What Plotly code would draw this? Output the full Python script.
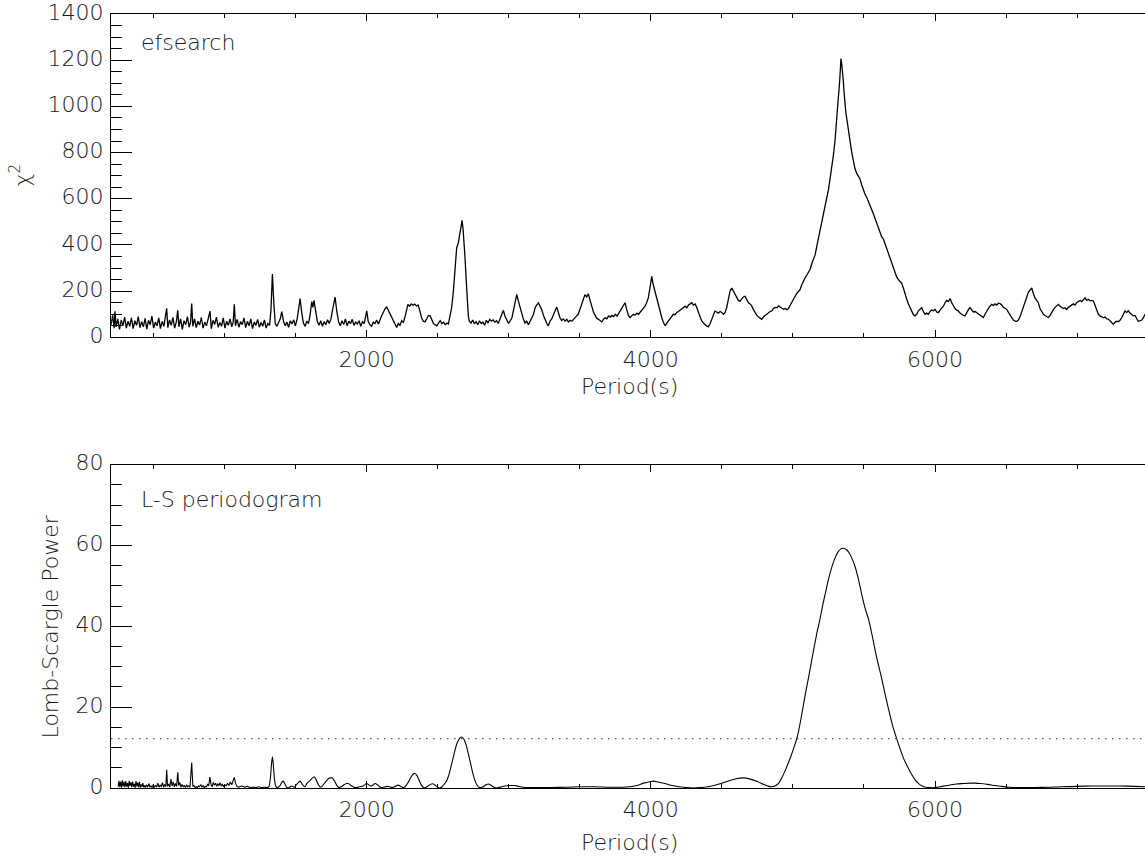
import plotly.graph_objects as go

# ---- epoch-folding search: chi-square versus trial period ----
chi2_period = [
    200, 212, 222, 228, 236, 248, 260, 272, 284, 296,
    308, 320, 332, 344, 356, 368, 380, 392, 404, 416,
    428, 440, 452, 464, 476, 488, 500, 512, 524, 536,
    548, 560, 572, 584, 592, 600, 612, 624, 636, 648,
    660, 670, 678, 690, 702, 714, 726, 738, 750, 760,
    768, 776, 788, 800, 812, 824, 836, 848, 860, 872,
    884, 897, 906, 918, 930, 942, 954, 966, 978, 990,
    1002, 1014, 1026, 1038, 1050, 1060, 1068, 1076, 1088, 1100,
    1112, 1124, 1136, 1148, 1160, 1172, 1184, 1196, 1208, 1220,
    1232, 1244, 1256, 1268, 1280, 1292, 1304, 1316, 1326, 1336,
    1346, 1356, 1368, 1380, 1392, 1402, 1414, 1426, 1438, 1450,
    1462, 1474, 1486, 1498, 1510, 1520, 1531, 1542, 1554, 1566,
    1578, 1590, 1602, 1613, 1621, 1629, 1640, 1652, 1664, 1676,
    1688, 1700, 1712, 1724, 1736, 1748, 1760, 1777, 1790, 1802,
    1814, 1826, 1838, 1850, 1862, 1874, 1886, 1898, 1910, 1922,
    1934, 1946, 1958, 1970, 1982, 1992, 2000, 2010, 2022, 2034,
    2046, 2058, 2070, 2082, 2094, 2106, 2118, 2130, 2141, 2152,
    2164, 2176, 2188, 2200, 2211, 2222, 2234, 2246, 2258, 2270,
    2280, 2290, 2302, 2314, 2326, 2338, 2350, 2362, 2374, 2386,
    2398, 2410, 2422, 2434, 2446, 2458, 2470, 2482, 2493, 2505,
    2517, 2529, 2541, 2553, 2565, 2575, 2586, 2598, 2610, 2622,
    2633, 2645, 2656, 2664, 2671, 2678, 2685, 2692, 2700, 2708,
    2715, 2722, 2734, 2746, 2758, 2770, 2782, 2794, 2806, 2818,
    2830, 2842, 2854, 2866, 2878, 2890, 2902, 2914, 2926, 2938,
    2950, 2962, 2974, 2986, 2998, 3010, 3022, 3034, 3046, 3056,
    3066, 3078, 3090, 3102, 3114, 3126, 3138, 3150, 3162, 3174,
    3186, 3198, 3208, 3220, 3232, 3244, 3256, 3268, 3278, 3290,
    3302, 3314, 3326, 3337, 3348, 3360, 3372, 3384, 3396, 3408,
    3420, 3432, 3444, 3456, 3468, 3478, 3489, 3500, 3512, 3524,
    3536, 3548, 3560, 3572, 3584, 3596, 3608, 3620, 3632, 3644,
    3654, 3666, 3678, 3690, 3702, 3714, 3726, 3738, 3750, 3762,
    3774, 3786, 3798, 3808, 3818, 3830, 3842, 3853, 3865, 3877,
    3889, 3901, 3913, 3925, 3935, 3947, 3959, 3970, 3982, 3994,
    4006, 4016, 4028, 4041, 4053, 4065, 4077, 4088, 4100, 4112,
    4124, 4136, 4148, 4158, 4170, 4182, 4194, 4206, 4217, 4229,
    4241, 4253, 4265, 4277, 4288, 4300, 4312, 4323, 4335, 4347,
    4358, 4370, 4381, 4393, 4404, 4416, 4428, 4440, 4451, 4463,
    4475, 4487, 4499, 4510, 4522, 4534, 4546, 4557, 4569, 4581,
    4593, 4605, 4616, 4628, 4640, 4651, 4663, 4675, 4687, 4698,
    4710, 4722, 4734, 4746, 4758, 4770, 4780, 4792, 4804, 4816,
    4828, 4839, 4851, 4863, 4875, 4887, 4898, 4910, 4922, 4934,
    4945, 4957, 4968, 4980, 4992, 5004, 5015, 5027, 5039, 5050,
    5062, 5074, 5086, 5098, 5109, 5121, 5133, 5145, 5156, 5168,
    5180, 5191, 5203, 5215, 5226, 5238, 5250, 5261, 5273, 5285,
    5296, 5308, 5320, 5328, 5334, 5338, 5344, 5348, 5354, 5360,
    5366, 5372, 5378, 5390, 5402, 5414, 5426, 5437, 5449, 5461,
    5472, 5484, 5496, 5507, 5519, 5531, 5543, 5554, 5566, 5578,
    5590, 5601, 5613, 5625, 5637, 5648, 5660, 5672, 5684, 5695,
    5706, 5718, 5730, 5742, 5753, 5765, 5777, 5789, 5801, 5812,
    5824, 5836, 5848, 5859, 5871, 5883, 5894, 5906, 5918, 5930,
    5941, 5953, 5965, 5977, 5988, 6000, 6012, 6024, 6035, 6047,
    6059, 6071, 6082, 6094, 6106, 6118, 6129, 6141, 6153, 6164,
    6176, 6188, 6200, 6211, 6223, 6235, 6246, 6258, 6270, 6282,
    6293, 6305, 6317, 6328, 6340, 6352, 6364, 6375, 6387, 6399,
    6411, 6422, 6434, 6446, 6458, 6470, 6481, 6493, 6505, 6517,
    6528, 6540, 6552, 6563, 6575, 6587, 6599, 6610, 6622, 6634,
    6646, 6657, 6669, 6681, 6692, 6704, 6716, 6727, 6739, 6751,
    6763, 6774, 6786, 6798, 6810, 6821, 6833, 6845, 6857, 6868,
    6880, 6892, 6904, 6915, 6927, 6939, 6950, 6962, 6974, 6986,
    6997, 7009, 7021, 7033, 7044, 7056, 7068, 7080, 7091, 7103,
    7115, 7127, 7138, 7150, 7162, 7174, 7185, 7197, 7209, 7220,
    7232, 7244, 7255, 7267, 7279, 7290, 7302, 7314, 7326, 7337,
    7349, 7361, 7373, 7384, 7396, 7408, 7420, 7431, 7443, 7455,
    7467, 7478,
]
chi2_value = [
    55, 95, 40, 113, 45, 80, 35, 75, 50, 88,
    40, 70, 48, 85, 38, 72, 52, 90, 42, 68,
    45, 82, 36, 74, 55, 92, 40, 66, 50, 84,
    38, 70, 48, 88, 126, 42, 76, 52, 86, 40,
    68, 117, 46, 80, 35, 72, 55, 90, 44, 65,
    146, 48, 80, 42, 70, 54, 86, 40, 66, 50,
    82, 114, 38, 74, 56, 88, 44, 64, 48, 84,
    40, 70, 52, 80, 46, 66, 143, 50, 78, 44,
    68, 55, 84, 42, 70, 50, 80, 38, 66, 52,
    78, 44, 64, 48, 76, 40, 60, 52, 120, 274,
    150, 60, 48, 70, 82, 112, 70, 50, 66, 44,
    72, 58, 76, 50, 80, 120, 168, 110, 62, 48,
    70, 60, 100, 155, 130, 160, 110, 70, 52, 72,
    48, 68, 55, 76, 60, 80, 120, 174, 110, 68,
    50, 72, 56, 80, 50, 70, 60, 78, 52, 66,
    58, 72, 48, 68, 60, 85, 115, 70, 55, 48,
    66, 60, 75, 58, 80, 95, 110, 125, 131, 118,
    100, 85, 70, 60, 43, 60, 52, 72, 65, 90,
    120, 143, 135, 145, 138, 144, 136, 140, 115, 85,
    70, 67, 80, 95, 93, 75, 60, 55, 50, 62,
    72, 60, 66, 55, 62, 58, 90, 130, 200, 290,
    387, 410, 460, 490, 507, 470, 420, 343, 250, 160,
    93, 70, 62, 75, 58, 68, 55, 72, 60, 66,
    52, 74, 62, 78, 70, 76, 66, 72, 60, 80,
    100, 117, 90, 75, 60, 72, 85, 120, 160, 186,
    160, 130, 100, 80, 62, 70, 55, 68, 85, 100,
    130, 140, 150, 135, 120, 95, 75, 60, 50, 70,
    80, 100, 120, 131, 110, 85, 73, 80, 70, 78,
    67, 74, 70, 80, 85, 93, 100, 120, 150, 170,
    185, 175, 189, 160, 130, 110, 95, 82, 78, 70,
    67, 78, 85, 80, 93, 88, 95, 90, 100, 92,
    105, 115, 130, 140, 150, 120, 95, 86, 93, 100,
    96, 105, 100, 110, 114, 125, 135, 150, 171, 215,
    264, 230, 200, 171, 140, 110, 85, 65, 50, 62,
    72, 85, 95, 100, 98, 108, 112, 118, 121, 130,
    135, 128, 140, 145, 150, 140, 145, 129, 105, 88,
    71, 62, 55, 50, 46, 58, 75, 95, 114, 110,
    105, 112, 108, 100, 107, 130, 170, 200, 214, 200,
    190, 170, 160, 157, 165, 175, 178, 165, 150, 145,
    136, 120, 105, 95, 88, 82, 78, 88, 95, 100,
    108, 112, 114, 125, 130, 128, 136, 130, 128, 122,
    125, 120, 125, 140, 155, 168, 178, 190, 200, 207,
    228, 245, 258, 270, 280, 295, 320, 340, 357, 395,
    430, 457, 500, 535, 571, 600, 640, 686, 730, 790,
    850, 930, 1043, 1100, 1160, 1207, 1180, 1130, 1114, 1060,
    1000, 975, 950, 886, 850, 800, 760, 730, 710, 695,
    686, 660, 635, 621, 607, 590, 570, 557, 535, 515,
    495, 478, 455, 435, 425, 405, 385, 365, 345, 321,
    300, 280, 262, 250, 243, 235, 214, 185, 165, 145,
    129, 110, 98, 93, 100, 115, 120, 129, 112, 100,
    105, 100, 112, 118, 115, 121, 110, 107, 118, 125,
    135, 150, 160, 155, 168, 150, 135, 125, 118, 114,
    105, 98, 95, 93, 110, 120, 129, 118, 110, 112,
    107, 100, 95, 90, 86, 100, 115, 125, 135, 143,
    138, 145, 140, 148, 146, 140, 130, 125, 121, 108,
    95, 85, 75, 70, 69, 75, 90, 110, 130, 157,
    175, 195, 205, 214, 190, 170, 160, 150, 125, 110,
    100, 95, 90, 86, 95, 110, 120, 130, 138, 143,
    135, 130, 125, 128, 121, 130, 135, 140, 145, 140,
    150, 155, 160, 155, 165, 171, 160, 165, 158, 160,
    157, 140, 120, 100, 93, 90, 85, 88, 80, 79,
    70, 65, 57, 65, 70, 68, 74, 85, 100, 114,
    108, 115, 105, 100, 93, 95, 80, 69, 72, 75,
    85, 100,
]

# ---- Lomb-Scargle periodogram ----
ls_period = [
    250, 256, 262, 268, 274, 280, 286, 292, 298, 304,
    310, 316, 322, 328, 334, 340, 346, 352, 358, 364,
    370, 376, 382, 388, 394, 400, 406, 412, 418, 424,
    430, 436, 442, 450, 458, 466, 474, 482, 490, 498,
    506, 514, 522, 530, 538, 546, 554, 562, 570, 578,
    586, 592, 598, 606, 614, 622, 630, 638, 646, 654,
    662, 670, 676, 684, 692, 700, 708, 716, 724, 732,
    740, 748, 756, 768, 776, 784, 792, 800, 808, 816,
    824, 832, 840, 848, 856, 864, 872, 880, 888, 896,
    904, 912, 920, 928, 936, 944, 952, 960, 968, 976,
    984, 992, 1000, 1010, 1020, 1030, 1040, 1050, 1060, 1068,
    1076, 1086, 1100, 1120, 1140, 1160, 1180, 1200, 1220, 1240,
    1260, 1280, 1300, 1312, 1322, 1330, 1336, 1342, 1350, 1360,
    1372, 1390, 1402, 1413, 1424, 1436, 1450, 1470, 1490, 1510,
    1531, 1550, 1565, 1580, 1600, 1615, 1631, 1645, 1660, 1675,
    1690, 1710, 1730, 1745, 1758, 1775, 1790, 1805, 1820, 1840,
    1858, 1871, 1890, 1910, 1930, 1950, 1975, 1990, 2000, 2010,
    2025, 2040, 2058, 2075, 2090, 2105, 2120, 2140, 2160, 2180,
    2200, 2222, 2240, 2255, 2270, 2290, 2310, 2325, 2340, 2355,
    2370, 2385, 2400, 2420, 2440, 2455, 2469, 2485, 2500, 2515,
    2530, 2545, 2560, 2575, 2590, 2605, 2620, 2635, 2650, 2668,
    2685, 2700, 2715, 2730, 2745, 2760, 2775, 2790, 2805, 2820,
    2840, 2856, 2870, 2890, 2910, 2930, 2950, 2975, 3000, 3020,
    3044, 3070, 3100, 3150, 3200, 3300, 3400, 3500, 3600, 3700,
    3800, 3850, 3900, 3950, 4000, 4016, 4050, 4100, 4150, 4200,
    4250, 4300, 4350, 4400, 4450, 4500, 4550, 4600, 4651, 4700,
    4750, 4800, 4830, 4850, 4880, 4900, 4920, 4945, 4965, 4985,
    5005, 5027, 5045, 5065, 5085, 5109, 5130, 5150, 5170, 5191,
    5210, 5232, 5252, 5273, 5295, 5315, 5335, 5355, 5375, 5395,
    5415, 5437, 5460, 5485, 5510, 5531, 5555, 5580, 5602, 5624,
    5650, 5675, 5700, 5730, 5755, 5780, 5805, 5835, 5860, 5885,
    5910, 5935, 5960, 6000, 6050, 6100, 6150, 6200, 6250, 6282,
    6320, 6370, 6420, 6470, 6520, 6570, 6634, 6700, 6800, 6900,
    7000, 7103, 7200, 7300, 7400, 7478,
]
ls_power = [
    0.3, 1.8, 0.2, 1.6, 0.1, 1.9, 0.4, 1.5, 0.2, 1.7,
    0.3, 1.2, 0.1, 1.8, 0.5, 1.4, 0.2, 1.6, 0.3, 1.0,
    0.1, 1.7, 0.4, 1.3, 0.2, 1.5, 0.1, 0.9, 0.3, 1.2,
    0.2, 0.6, 0.1, 0.8, 0.2, 1.1, 0.3, 0.5, 0.1, 0.9,
    0.2, 0.6, 0.3, 1.2, 0.2, 0.7, 0.4, 1.3, 0.2, 0.9,
    0.3, 4.5, 0.4, 1.0, 0.2, 2.2, 0.5, 1.5, 0.3, 1.1,
    0.4, 3.9, 0.6, 1.4, 0.2, 0.9, 0.3, 0.6, 0.1, 0.8,
    0.3, 0.5, 0.2, 6.3, 0.4, 0.6, 0.1, 0.3, 0.1, 0.5,
    0.3, 0.9, 0.2, 0.6, 0.1, 0.4, 0.3, 1.0, 0.5, 2.7,
    0.9, 0.3, 1.4, 0.7, 1.2, 0.4, 1.0, 0.6, 1.3, 0.5,
    0.9, 0.3, 0.8, 0.5, 1.2, 0.6, 1.5, 0.8, 1.9, 2.7,
    1.2, 0.4, 0.2, 0.5, 0.2, 0.4, 0.1, 0.2, 0.1, 0.3,
    0.1, 0.2, 0.1, 0.4, 2.5, 6.0, 7.7, 6.0, 2.4, 0.4,
    0.1, 0.6, 1.4, 1.7, 1.0, 0.2, 0.0, 0.5, 0.2, 1.0,
    1.7, 0.7, 0.3, 1.2, 1.8, 2.4, 2.8, 2.0, 0.8, 0.2,
    0.6, 1.5, 2.3, 2.5, 2.5, 1.6, 0.6, 0.1, 0.3, 0.8,
    1.1, 1.1, 0.6, 0.2, 0.1, 0.3, 0.5, 0.9, 1.1, 0.9,
    0.5, 0.6, 1.1, 0.8, 0.3, 0.1, 0.2, 0.4, 0.3, 0.1,
    0.4, 0.7, 0.4, 0.1, 0.3, 1.3, 2.6, 3.4, 3.6, 3.0,
    1.8, 0.7, 0.1, 0.2, 0.7, 1.0, 1.0, 0.6, 0.2, 0.0,
    0.3, 0.9, 1.6, 2.9, 4.8, 7.0, 9.2, 11.0, 12.1, 12.6,
    12.0, 10.6, 8.5, 6.2, 3.9, 2.0, 0.8, 0.2, 0.1, 0.3,
    0.8, 1.0, 0.8, 0.3, 0.0, 0.1, 0.3, 0.5, 0.6, 0.6,
    0.6, 0.4, 0.2, 0.1, 0.1, 0.1, 0.2, 0.3, 0.3, 0.2,
    0.2, 0.3, 0.6, 1.2, 1.6, 1.7, 1.5, 1.1, 0.6, 0.3,
    0.1, 0.0, 0.1, 0.3, 0.7, 1.2, 1.8, 2.3, 2.5, 2.2,
    1.6, 0.8, 0.4, 0.3, 0.6, 1.2, 2.4, 4.3, 6.0, 7.8,
    9.8, 12.2, 15.0, 18.8, 22.8, 27.2, 31.2, 35.0, 38.6, 41.9,
    45.3, 48.8, 51.9, 54.6, 56.8, 58.3, 59.1, 59.3, 59.0, 58.2,
    56.8, 54.8, 51.8, 47.8, 44.2, 41.9, 38.2, 33.8, 30.4, 27.2,
    23.0, 19.2, 15.6, 12.2, 9.6, 7.2, 5.4, 3.4, 2.0, 1.1,
    0.5, 0.2, 0.1, 0.1, 0.4, 0.7, 1.0, 1.1, 1.2, 1.2,
    1.1, 0.9, 0.6, 0.4, 0.2, 0.1, 0.1, 0.1, 0.2, 0.3,
    0.4, 0.5, 0.5, 0.5, 0.4, 0.3,
]

# significance level drawn as a dotted horizontal line
ls_threshold = 12.2

period_range = [200, 7478]
chi2_range = [0, 1400]
power_range = [0, 80]

# the periodogram is jagged below this period and smooth above it
ls_smooth_from = 1100

FONT = dict(family="DejaVu Sans", size=22, color="#1a1a1a", weight=300)
INK = "black"

fig = go.Figure()

fig.add_trace(go.Scatter(
    x=chi2_period, y=chi2_value, mode="lines",
    line=dict(color=INK, width=1.3),
    xaxis="x", yaxis="y", showlegend=False, hoverinfo="skip",
))

split = next(i for i, p in enumerate(ls_period) if p >= ls_smooth_from)
fig.add_trace(go.Scatter(
    x=ls_period[:split + 1], y=ls_power[:split + 1], mode="lines",
    line=dict(color=INK, width=1.1),
    xaxis="x2", yaxis="y2", showlegend=False, hoverinfo="skip",
))
fig.add_trace(go.Scatter(
    x=ls_period[split:], y=ls_power[split:], mode="lines",
    line=dict(color=INK, width=1.1, shape="spline", smoothing=0.6),
    xaxis="x2", yaxis="y2", showlegend=False, hoverinfo="skip",
))
fig.add_trace(go.Scatter(
    x=period_range, y=[ls_threshold, ls_threshold], mode="lines",
    line=dict(color="#555555", width=1.3, dash="1.5px,5.5px"),
    xaxis="x2", yaxis="y2", showlegend=False, hoverinfo="skip",
))


def x_axis(anchor):
    return dict(
        anchor=anchor, domain=[0, 1], range=period_range,
        tick0=0, dtick=2000, ticks="inside", ticklen=7, tickwidth=1,
        tickcolor=INK, showline=True, linecolor=INK, linewidth=1,
        mirror="ticks", showgrid=False, zeroline=False,
        tickfont=FONT, ticklabelstandoff=2,
        minor=dict(tick0=0, dtick=500, ticks="inside", ticklen=4,
                   tickwidth=1, tickcolor=INK, showgrid=False),
    )


def y_axis(anchor, domain, rng, major, minor, left=True):
    ax = dict(
        anchor=anchor, range=rng, tick0=0, dtick=major,
        ticks="inside", ticklen=21, tickwidth=1, tickcolor=INK,
        showgrid=False, zeroline=False,
        minor=dict(tick0=0, dtick=minor, ticks="inside", ticklen=11,
                   tickwidth=1, tickcolor=INK, showgrid=False),
    )
    if left:
        ax.update(domain=domain, showline=True, linecolor=INK, linewidth=1,
                  tickfont=FONT, ticklabelstandoff=2, ticklabelshift=-2,
                  ticklabeloverflow="allow")
    else:
        ax.update(side="right", showline=False, showticklabels=False)
    return ax


top_domain = [0.5822, 1.0]
bottom_domain = [0.0, 0.4178]

fig.update_layout(
    width=1145, height=858,
    margin=dict(l=111, r=0, t=7, b=70),
    paper_bgcolor="white", plot_bgcolor="white",
    showlegend=False,
    xaxis=x_axis("y"),
    xaxis2=x_axis("y2"),
    yaxis=y_axis("x", top_domain, chi2_range, 200, 50),
    yaxis2=y_axis("x2", bottom_domain, power_range, 20, 5),
    # tick marks repeated along the right-hand edge of each panel
    yaxis3=dict(y_axis("x", top_domain, chi2_range, 200, 50, left=False),
                overlaying="y"),
    yaxis4=dict(y_axis("x2", bottom_domain, power_range, 20, 5, left=False),
                overlaying="y2"),
)

labels = [
    dict(text="efsearch", x=0.027, y=0.9629, xanchor="left", yanchor="middle"),
    dict(text="L-S periodogram", x=0.027, y=0.373, xanchor="left", yanchor="middle"),
    dict(text="Period(s)", x=0.501, y=0.5185, xanchor="center", yanchor="middle"),
    dict(text="Period(s)", x=0.501, y=-0.0704, xanchor="center", yanchor="middle"),
    dict(text="χ<sup>2</sup>", x=-0.088, y=0.7913, xanchor="center",
         yanchor="middle", textangle=-90),
    dict(text="Lomb-Scargle Power", x=-0.059, y=0.2087, xanchor="center",
         yanchor="middle", textangle=-90),
]
for lab in labels:
    fig.add_annotation(xref="paper", yref="paper", showarrow=False,
                       font=FONT, **lab)

fig.write_html("out.html")
